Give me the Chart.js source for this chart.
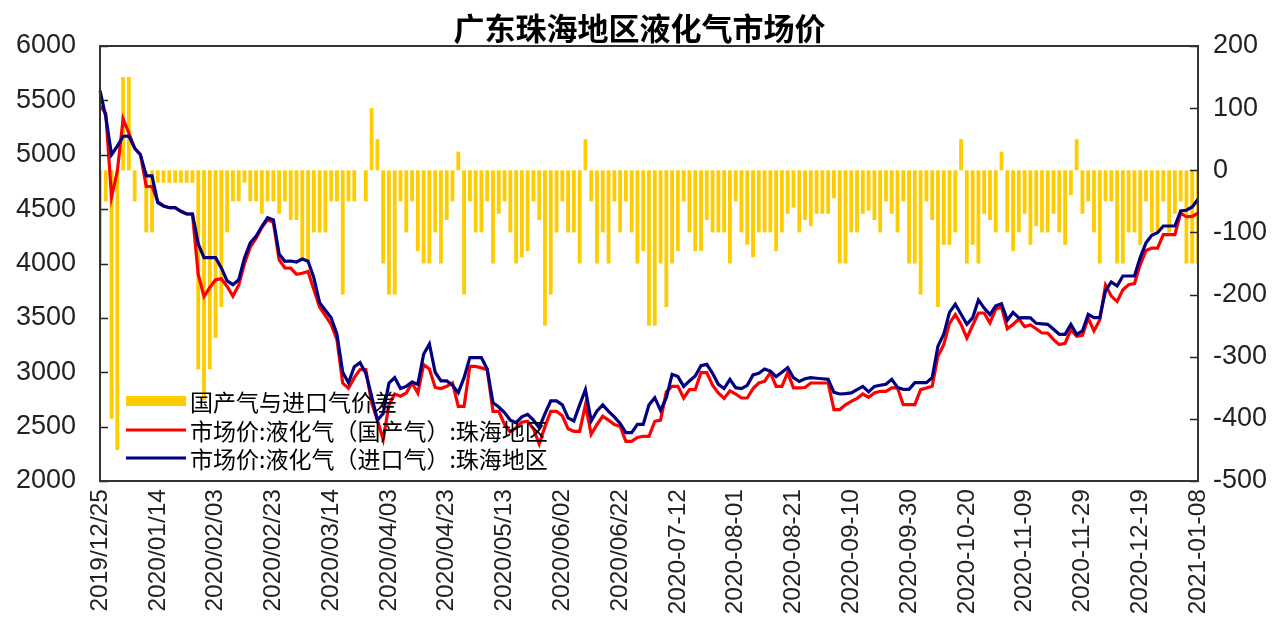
<!doctype html>
<html lang="zh">
  <head>
    <meta charset="utf-8">
    <title>广东珠海地区液化气市场价</title>
    <script src="https://cdn.jsdelivr.net/npm/chart.js@4.4.0/dist/chart.umd.min.js"></script>
    <style>
      html, body { margin: 0; padding: 0; background: #fff; }
      #wrap { width: 1279px; height: 625px; }
    </style>
  </head>
  <body>
    <div id="wrap"><canvas id="chart" width="1279" height="625"></canvas></div>
    <script>
      // tick labels shown on the x axis, one every 10 categories (20 days)
      const xTickLabels = [
        '2019/12/25', '2020/01/14', '2020/02/03', '2020/02/23', '2020/03/14',
        '2020/04/03', '2020/04/23', '2020/05/13', '2020/06/02', '2020/06/22',
        '2020-07-12', '2020-08-01', '2020-08-21', '2020-09-10', '2020-09-30',
        '2020-10-20', '2020-11-09', '2020-11-29', '2020-12-19', '2021-01-08'
      ];

      // 国产气与进口气价差 (right axis), one value per 2-day step
      const priceGap = [
        -150, -50, -400, -450, 150, 150, -50, null, -100, -100,
        -20, -20, -20, -20, -20, -20, -20, -320, -370, -320,
        -270, -220, -100, -50, -50, -20, -50, -50, -70, -50,
        -50, -70, -50, -80, -80, -145, -145, -100, -100, -100,
        -50, -50, -200, -50, -50, null, -50, 100, 50, -150,
        -200, -200, -50, -100, -50, -130, -150, -150, -100, -150,
        -80, -50, 30, -200, -50, -100, -100, -50, -150, -70,
        -50, -100, -150, -140, -130, -50, -80, -250, -200, -100,
        -50, -100, -100, -150, 50, -50, -150, -100, -150, -50,
        -100, -50, -100, -150, -130, -250, -250, -150, -220, -150,
        -130, -50, -100, -130, -130, -80, -100, -100, -100, -150,
        -50, -100, -120, -140, -100, -100, -100, -130, -100, -70,
        -60, -100, -80, -90, -70, -70, -70, -45, -150, -150,
        -100, -100, -70, -65, -80, -100, -50, -70, -100, -50,
        -150, -150, -200, -50, -80, -220, -120, -120, -100, 50,
        -150, -120, -150, -70, -80, -100, 30, -100, -130, -100,
        -70, -120, -90, -100, -100, -70, -100, -120, -40, 50,
        -70, -50, -100, -150, -50, -50, -150, -150, -100, -100,
        -120, -50, -100, -100, -50, -100, -70, -50, -150, -150,
        -150
      ];

      // 市场价:液化气(国产气):珠海地区
      const domestic = [
        5450, 5380, 4610, 4850, 5330, 5200, 5060, 5000, 4708, 4708,
        4570, 4529, 4513, 4513, 4480, 4455, 4455, 3900, 3696, 3780,
        3850, 3860, 3789, 3700, 3800, 4000, 4150, 4230, 4330, 4402,
        4380, 4034, 3960, 3958, 3900, 3910, 3927, 3760, 3600, 3520,
        3440, 3300, 2900, 2854, 2950, 3024, 3024, 2718, 2560, 2381,
        2700, 2800, 2780, 2809, 2901, 2809, 3070, 3030, 2860, 2850,
        2871, 2901, 2687, 2687, 3054, 3054, 3040, 3024, 2641, 2641,
        2520, 2450, 2490, 2540, 2549, 2480, 2340, 2500, 2641, 2641,
        2600, 2480, 2457, 2457, 2700, 2430, 2520, 2595, 2560, 2520,
        2503, 2365, 2365, 2400, 2411, 2411, 2549, 2560, 2820, 2871,
        2871, 2763, 2840, 2840, 2997, 2997, 2880, 2809, 2760, 2830,
        2800, 2763, 2763, 2850, 2901, 2916, 2997, 2871, 2871, 2997,
        2856, 2856, 2860, 2901, 2901, 2901, 2901, 2657, 2657, 2700,
        2733, 2760, 2800, 2770, 2810, 2825, 2825, 2856, 2856, 2702,
        2702, 2702, 2840, 2855, 2871, 3150, 3254, 3450, 3530, 3440,
        3315, 3430, 3545, 3545, 3453, 3580, 3600, 3400, 3440, 3490,
        3420, 3435, 3400, 3361, 3361, 3300, 3254, 3265, 3392, 3330,
        3340, 3499, 3380, 3480, 3800, 3700, 3652, 3759, 3805, 3815,
        3990, 4120, 4142, 4142, 4265, 4265, 4265, 4463, 4430, 4433,
        4463
      ];

      // 市场价:液化气(进口气):珠海地区
      const imported = [
        5590, 5350, 5000, 5080, 5170, 5172, 5060, 5000, 4805, 4805,
        4560, 4529, 4513, 4513, 4480, 4455, 4455, 4180, 4054, 4054,
        4054, 3960, 3840, 3805, 3850, 4050, 4190, 4250, 4340, 4421,
        4400, 4087, 4020, 4023, 4014, 4041, 4020, 3870, 3640, 3570,
        3502, 3350, 3000, 2904, 3050, 3088, 2990, 2780, 2560, 2620,
        2900, 2950, 2850, 2870, 2910, 2890, 3165, 3260, 3000, 2920,
        2920, 2880, 2812, 2950, 3134, 3134, 3134, 3030, 2720, 2680,
        2630, 2560, 2536, 2590, 2613, 2560, 2490, 2620, 2736, 2736,
        2700, 2580, 2552, 2700, 2840, 2552, 2644, 2700, 2640, 2590,
        2530, 2444, 2444, 2521, 2521, 2700, 2766, 2650, 2766, 2981,
        2960, 2870, 2920, 2966, 3060, 3073, 2990, 2889, 2850, 2935,
        2858, 2850, 2880, 2975, 2990, 3030, 3010, 2960, 3000, 3042,
        2950, 2915, 2940, 2950, 2945, 2940, 2935, 2815, 2800, 2803,
        2810, 2840, 2870, 2820, 2870, 2880, 2890, 2935, 2860, 2843,
        2843, 2904, 2904, 2904, 2950, 3240, 3349, 3550, 3625, 3533,
        3441, 3500, 3665, 3590, 3530, 3610, 3630, 3480, 3550, 3500,
        3502, 3500, 3450, 3445, 3441, 3395, 3349, 3349, 3440, 3349,
        3380, 3533, 3502, 3502, 3750, 3830, 3793, 3885, 3885, 3885,
        4054, 4190, 4260, 4283, 4345, 4345, 4345, 4483, 4490, 4520,
        4590
      ];

      const seriesNames = [
        '国产气与进口气价差',
        '市场价:液化气（国产气）:珠海地区',
        '市场价:液化气（进口气）:珠海地区'
      ];

      // categories: one every 2 days from 2019-12-25
      const categories = [];
      const start = new Date(2019, 11, 25);
      for (let i = 0; i < imported.length; i++) {
        const d = new Date(start);
        d.setDate(d.getDate() + 2 * i);
        categories.push(d.toISOString().slice(0, 10));
      }

      const CJK = '"Noto Sans CJK SC", "Noto Sans", sans-serif';
      const NUM = '"Liberation Sans", Arial, sans-serif';

      // plot frame, inward ticks and the legend inside the plot
      const framePlugin = {
        id: 'frame',
        afterDatasetsDraw(chart) {
          const ctx = chart.ctx;
          const a = chart.chartArea;
          ctx.save();
          ctx.strokeStyle = '#222';
          ctx.lineWidth = 1.5;
          chart.scales.y.ticks.forEach(t => {
            const py = Math.round(chart.scales.y.getPixelForValue(t.value)) + 0.5;
            ctx.beginPath(); ctx.moveTo(a.left, py); ctx.lineTo(a.left + 8, py); ctx.stroke();
          });
          chart.scales.y1.ticks.forEach(t => {
            const py = Math.round(chart.scales.y1.getPixelForValue(t.value)) + 0.5;
            ctx.beginPath(); ctx.moveTo(a.right - 8, py); ctx.lineTo(a.right, py); ctx.stroke();
          });
          ctx.strokeStyle = '#333';
          ctx.lineWidth = 2;
          ctx.strokeRect(a.left, a.top, a.right - a.left, a.bottom - a.top);
          ctx.restore();
        },
        afterDraw(chart) {
          const ctx = chart.ctx;
          const ds = chart.data.datasets;
          const rows = [401, 430, 458];
          ctx.save();
          ctx.font = '23px ' + CJK;
          ctx.textBaseline = 'middle';
          ds.forEach((d, k) => {
            const y = rows[k];
            if (d.type === 'bar') {
              ctx.fillStyle = d.backgroundColor;
              ctx.fillRect(126, y - 5, 60, 10);
            } else {
              ctx.strokeStyle = d.borderColor;
              ctx.lineWidth = 3;
              ctx.beginPath(); ctx.moveTo(126, y); ctx.lineTo(186, y); ctx.stroke();
            }
            ctx.fillStyle = '#000';
            ctx.fillText(d.label, 190, y + 1);
          });
          ctx.restore();
        }
      };

      const ctx = document.getElementById('chart').getContext('2d');
      const myChart = new Chart(ctx, {
        data: {
          labels: categories,
          datasets: [
            {
              type: 'bar',
              label: seriesNames[0],
              data: priceGap,
              yAxisID: 'y1',
              backgroundColor: '#FFCC00',
              categoryPercentage: 1,
              barPercentage: 0.66,
              order: 3
            },
            {
              type: 'line',
              label: seriesNames[1],
              data: domestic,
              yAxisID: 'y',
              borderColor: '#FF0000',
              borderWidth: 3.2,
              pointRadius: 0,
              tension: 0,
              order: 2
            },
            {
              type: 'line',
              label: seriesNames[2],
              data: imported,
              yAxisID: 'y',
              borderColor: '#000080',
              borderWidth: 3.2,
              pointRadius: 0,
              tension: 0,
              order: 1
            }
          ]
        },
        options: {
          responsive: false,
          animation: false,
          layout: { padding: 0 },
          plugins: {
            legend: { display: false },
            tooltip: { enabled: false },
            title: {
              display: true,
              text: '广东珠海地区液化气市场价',
              color: '#000',
              font: { family: CJK, size: 31, weight: 'bold', lineHeight: 1 },
              padding: { top: 13, bottom: 2 }
            }
          },
          scales: {
            x: {
              type: 'category',
              offset: false,
              grid: { display: false, drawTicks: false },
              border: { display: false },
              ticks: {
                autoSkip: false,
                minRotation: 90,
                maxRotation: 90,
                padding: 8,
                color: '#222',
                font: { family: NUM, size: 24.5 },
                callback: (v, i) => (i % 10 === 0 ? xTickLabels[i / 10] : null)
              },
              afterFit: s => { s.height = 144; }
            },
            y: {
              position: 'left',
              min: 2000,
              max: 6000,
              grid: { display: false, drawTicks: false },
              border: { display: false },
              ticks: {
                stepSize: 500,
                padding: 24,
                color: '#222',
                font: { family: NUM, size: 27 },
                callback: v => String(v)
              },
              afterFit: s => { s.width = 100; }
            },
            y1: {
              position: 'right',
              min: -500,
              max: 200,
              grid: { display: false, drawTicks: false },
              border: { display: false },
              ticks: {
                stepSize: 100,
                padding: 15,
                color: '#222',
                font: { family: NUM, size: 27 },
                callback: v => String(v)
              },
              afterFit: s => { s.width = 81; }
            }
          }
        },
        plugins: [framePlugin]
      });
    </script>
  </body>
</html>
